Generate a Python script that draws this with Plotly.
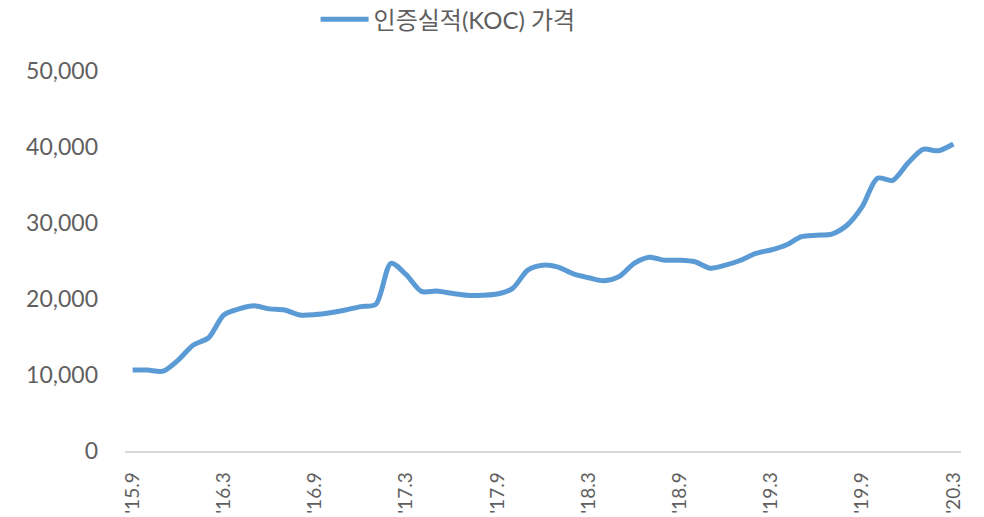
import plotly.graph_objects as go

# Monthly labels Sep 2015 .. Mar 2020
months = []
for yr in range(15, 21):
    for m in range(1, 13):
        if (yr == 15 and m < 9) or (yr == 20 and m > 3):
            continue
        months.append(f"'{yr}.{m}")

prices = [10650, 10650, 10500, 11970, 13950, 14900, 17900, 18700, 19100, 18700,
          18550, 17900, 17950, 18200, 18550, 19000, 19300, 24700, 23200, 21000,
          21050, 20750, 20500, 20500, 20650, 21400, 23800, 24450, 24200, 23300,
          22800, 22400, 22950, 24700, 25500, 25100, 25100, 24900, 24050, 24450,
          25100, 26000, 26450, 27100, 28200, 28400, 28550, 29700, 32150, 35900,
          35600, 37850, 39700, 39500, 40400]

tick_idx = list(range(0, len(months), 6))
tick_text = [months[i] for i in tick_idx]
y_ticks = [0, 10000, 20000, 30000, 40000, 50000]

FONT = "Lato, Noto Sans CJK KR, sans-serif"
GRAY = "#5f5f5f"

fig = go.Figure()
fig.add_trace(go.Scatter(
    x=list(range(len(months))), y=prices, mode="lines",
    name="인증실적(KOC) 가격",
    line=dict(color="#5B9BD5", width=5, shape="spline", smoothing=0.8),
))

fig.update_layout(
    width=984, height=517,
    paper_bgcolor="white", plot_bgcolor="white",
    margin=dict(l=125, r=23, t=71, b=66, autoexpand=False),
    font=dict(family=FONT, color=GRAY, size=22),
    showlegend=True,
    legend=dict(orientation="h", x=0.228, xanchor="left", y=1.135, yanchor="middle",
                font=dict(size=24, color=GRAY), itemwidth=48,
                bgcolor="rgba(0,0,0,0)"),
    xaxis=dict(range=[-0.5, len(months) - 0.5], tickvals=tick_idx, ticktext=tick_text,
               tickangle=-90, showgrid=False, zeroline=False, showline=True,
               linecolor="#D9D9D9", linewidth=1.5, ticks="", ticklabelstandoff=12,
               tickfont=dict(size=19, color=GRAY)),
    yaxis=dict(range=[0, 50000], tickvals=y_ticks, tickformat=",", showgrid=False,
               zeroline=False, showline=False, ticks="", ticklabelstandoff=26,
               tickfont=dict(size=23, color=GRAY)),
)

fig.write_html("out.html", config={"displayModeBar": False},
               post_script="document.body.style.margin='0px';document.body.style.overflow='hidden';")
